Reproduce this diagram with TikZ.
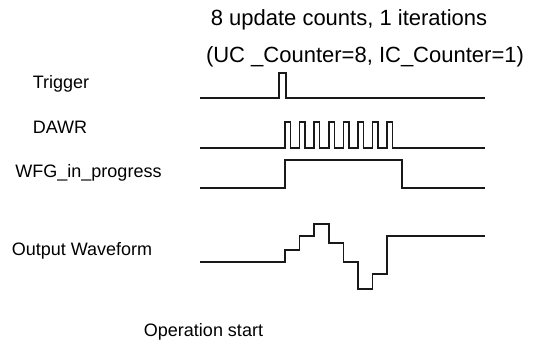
\documentclass[tikz,border=0pt]{standalone}
\usepackage{fontspec}
\setmainfont{Liberation Sans}
\begin{document}
\begin{tikzpicture}[x=1pt,y=-1pt,
  wave/.style={line width=1.5pt,black!90,line join=miter},
  title/.style={inner sep=0pt,anchor=base,font=\fontsize{22}{26}\selectfont},
  sig/.style={inner sep=0pt,anchor=base,font=\fontsize{18}{21}\selectfont}]
\useasboundingbox (0,0) rectangle (539,340);
% titles
\node[title] (t1) at (349,26) {8 update counts, 1 iterations};
\node[title] (t2) at (365,62) {(UC \_Counter=8, IC\_Counter=1)};
% labels
\node[sig] (ltrig) at (61,88) {Trigger};
\node[sig] (ldawr) at (60,133) {DAWR};
\node[sig] (lwfg) at (88.5,177) {WFG\_in\_progress};
\node[sig] (lout) at (82,255) {Output Waveform};
\node[sig] (lop) at (203.5,336) {Operation start};
% Trigger
\draw[wave] (200,98) -- (279,98) -- (279,73) -- (286,73) -- (286,98) -- (485,98);
% DAWR
\draw[wave] (200,148) foreach \i in {0,...,7} { -- ({285+14.6*\i},148) -- ++(0,-26) -- ++(5.5,0) -- ++(0,26) } -- (485,148);
% WFG_in_progress
\draw[wave] (200,188) -- (285,188) -- (285,160) -- (402,160) -- (402,188) -- (485,188);
% Output waveform
\draw[wave] (200,262) -- (285,262)
  -- (285,250) -- (299.6,250)
  -- (299.6,236) -- (314.2,236)
  -- (314.2,224) -- (328.8,224)
  -- (328.8,243) -- (343.4,243)
  -- (343.4,262) -- (358,262)
  -- (358,289) -- (372.6,289)
  -- (372.6,274) -- (387.2,274)
  -- (387.2,236) -- (485,236);
\end{tikzpicture}
\end{document}
